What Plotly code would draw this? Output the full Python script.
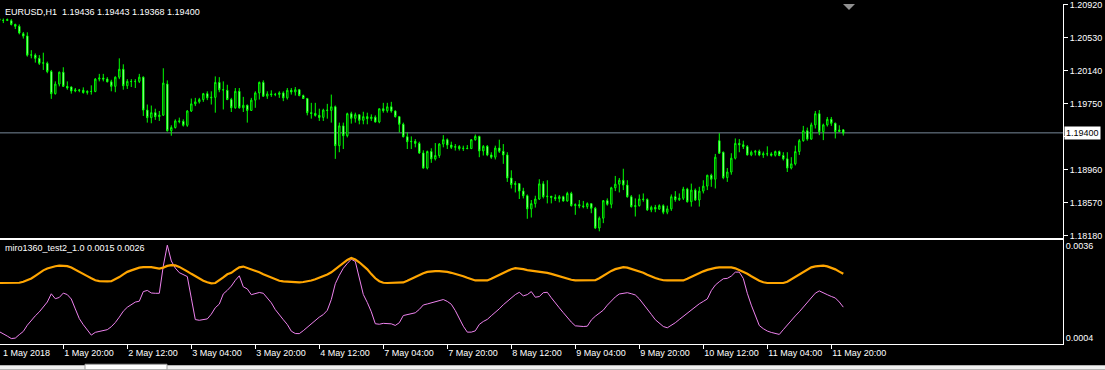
import plotly.graph_objects as go

# ---------------- data (EURUSD H1, 1 May 04:00 .. 11 May 23:00, weekend bars absent) ----------------
opens = [1.20756,1.20738,1.20736,1.20732,1.20689,1.20667,1.20579,1.20552,1.20324,1.20324,
1.20286,1.20227,1.20227,1.20129,1.19866,1.19980,1.20121,1.19953,1.19945,1.19898,
1.19910,1.19906,1.19880,1.19894,1.19892,1.20039,1.20051,1.20039,1.20007,1.19953,
1.20062,1.20156,1.19960,1.20012,1.20010,1.20012,1.20062,1.19671,1.19581,1.19640,
1.19593,1.19610,1.19980,1.19425,1.19463,1.19542,1.19537,1.19490,1.19660,1.19745,
1.19769,1.19796,1.19866,1.19816,1.19822,1.20000,1.19913,1.19906,1.19796,1.19698,
1.19894,1.19698,1.19728,1.19667,1.19789,1.19875,1.20000,1.19836,1.19863,1.19855,
1.19857,1.19875,1.19816,1.19906,1.19886,1.19913,1.19843,1.19808,1.19640,1.19631,
1.19608,1.19584,1.19671,1.19667,1.19710,1.19248,1.19483,1.19366,1.19628,1.19573,
1.19616,1.19549,1.19593,1.19569,1.19587,1.19530,1.19687,1.19663,1.19710,1.19660,
1.19593,1.19502,1.19354,1.19295,1.19299,1.19275,1.19161,1.18982,1.19178,1.19091,
1.19131,1.19267,1.19319,1.19255,1.19228,1.19237,1.19213,1.19217,1.19213,1.19319,
1.19358,1.19185,1.19240,1.19138,1.19111,1.19220,1.19181,1.19138,1.18864,1.18786,
1.18797,1.18708,1.18653,1.18497,1.18559,1.18614,1.18794,1.18641,1.18647,1.18633,
1.18618,1.18641,1.18591,1.18680,1.18535,1.18547,1.18532,1.18524,1.18559,1.18504,
1.18269,1.18386,1.18594,1.18551,1.18747,1.18790,1.18837,1.18779,1.18641,1.18524,
1.18535,1.18614,1.18609,1.18485,1.18515,1.18494,1.18535,1.18457,1.18497,1.18641,
1.18606,1.18623,1.18732,1.18582,1.18720,1.18602,1.18708,1.18767,1.18896,1.18849,
1.19307,1.19170,1.18868,1.18935,1.19099,1.19275,1.19258,1.19237,1.19138,1.19170,
1.19181,1.19138,1.19152,1.19150,1.19134,1.19178,1.19131,1.19091,1.18982,1.19032,
1.19178,1.19307,1.19425,1.19326,1.19495,1.19628,1.19413,1.19495,1.19561,1.19514,
1.19416,1.19436]
highs = [1.20776,1.20759,1.20759,1.20752,1.20697,1.20689,1.20599,1.20595,1.20383,1.20344,
1.20324,1.20353,1.20247,1.20148,1.20012,1.20129,1.20180,1.20012,1.19953,1.19933,
1.19922,1.19941,1.19906,1.19965,1.20051,1.20101,1.20101,1.20062,1.20031,1.20071,
1.20286,1.20215,1.20039,1.20039,1.20039,1.20101,1.20071,1.19737,1.19725,1.19687,
1.19660,1.20168,1.20024,1.19490,1.19561,1.19581,1.19561,1.19671,1.19808,1.19816,
1.19816,1.19875,1.19894,1.19894,1.20071,1.20062,1.20012,1.19972,1.19816,1.19933,
1.19933,1.19828,1.19737,1.19816,1.19894,1.20010,1.20024,1.19894,1.19906,1.19875,
1.19894,1.19894,1.19933,1.19933,1.19945,1.19922,1.19855,1.19816,1.19757,1.19757,
1.19687,1.19687,1.19745,1.19855,1.19725,1.19522,1.19522,1.19640,1.19651,1.19640,
1.19620,1.19651,1.19640,1.19620,1.19608,1.19687,1.19757,1.19757,1.19769,1.19667,
1.19601,1.19522,1.19405,1.19358,1.19326,1.19295,1.19193,1.19190,1.19217,1.19279,
1.19279,1.19373,1.19334,1.19295,1.19267,1.19255,1.19248,1.19255,1.19326,1.19381,
1.19366,1.19255,1.19255,1.19170,1.19248,1.19319,1.19267,1.19170,1.18955,1.18826,
1.18800,1.18747,1.18668,1.18602,1.18653,1.18849,1.18826,1.18837,1.18650,1.18668,
1.18661,1.18653,1.18700,1.18700,1.18562,1.18602,1.18591,1.18574,1.18562,1.18520,
1.18406,1.18602,1.18621,1.18759,1.18888,1.18864,1.18974,1.18837,1.18661,1.18621,
1.18668,1.18680,1.18621,1.18535,1.18544,1.18551,1.18551,1.18535,1.18668,1.18708,
1.18680,1.18759,1.18747,1.18797,1.18739,1.18759,1.18837,1.18903,1.18915,1.19150,
1.19396,1.19178,1.18982,1.19158,1.19334,1.19326,1.19307,1.19255,1.19190,1.19197,
1.19201,1.19178,1.19240,1.19170,1.19190,1.19190,1.19170,1.19170,1.19111,1.19248,
1.19326,1.19483,1.19463,1.19522,1.19660,1.19671,1.19510,1.19589,1.19589,1.19522,
1.19490,1.19443]
lows = [1.20709,1.20705,1.20729,1.20677,1.20634,1.20571,1.20521,1.20306,1.20286,1.20235,
1.20207,1.20148,1.20109,1.19804,1.19855,1.19953,1.19945,1.19913,1.19866,1.19883,
1.19883,1.19866,1.19855,1.19855,1.19883,1.20012,1.20012,1.20000,1.19894,1.19883,
1.20039,1.19913,1.19922,1.19945,1.19933,1.19992,1.19601,1.19522,1.19514,1.19554,
1.19542,1.19601,1.19416,1.19366,1.19452,1.19514,1.19475,1.19472,1.19648,1.19718,
1.19749,1.19769,1.19789,1.19737,1.19640,1.19883,1.19678,1.19789,1.19648,1.19687,
1.19687,1.19648,1.19522,1.19660,1.19698,1.19796,1.19828,1.19804,1.19828,1.19836,
1.19816,1.19777,1.19796,1.19855,1.19843,1.19836,1.19804,1.19608,1.19569,1.19593,
1.19542,1.19542,1.19569,1.19522,1.19091,1.19170,1.19208,1.19346,1.19510,1.19522,
1.19502,1.19502,1.19502,1.19542,1.19522,1.19514,1.19640,1.19640,1.19640,1.19581,
1.19405,1.19346,1.19208,1.19208,1.19228,1.19150,1.18974,1.18966,1.19044,1.19072,
1.19103,1.19228,1.19208,1.19208,1.19190,1.19190,1.19185,1.19208,1.19208,1.19307,
1.19111,1.19131,1.19123,1.19091,1.19084,1.19161,1.19032,1.18817,1.18739,1.18692,
1.18614,1.18621,1.18379,1.18394,1.18512,1.18602,1.18621,1.18562,1.18562,1.18591,
1.18574,1.18582,1.18582,1.18524,1.18426,1.18504,1.18504,1.18497,1.18445,1.18257,
1.18230,1.18327,1.18535,1.18504,1.18708,1.18692,1.18720,1.18629,1.18512,1.18406,
1.18524,1.18582,1.18473,1.18457,1.18457,1.18485,1.18433,1.18433,1.18473,1.18582,
1.18591,1.18602,1.18571,1.18524,1.18591,1.18524,1.18680,1.18720,1.18759,1.18739,
1.19150,1.18849,1.18817,1.18903,1.19084,1.19170,1.19208,1.19131,1.19123,1.19131,
1.19123,1.19103,1.19123,1.19119,1.19119,1.19123,1.19072,1.18935,1.18966,1.19013,
1.19138,1.19295,1.19307,1.19319,1.19452,1.19373,1.19314,1.19475,1.19483,1.19334,
1.19413,1.19368]
closes = [1.20738,1.20736,1.20747,1.20689,1.20667,1.20588,1.20550,1.20324,1.20327,1.20286,
1.20227,1.20233,1.20129,1.19866,1.19980,1.20121,1.19953,1.19933,1.19898,1.19910,
1.19906,1.19880,1.19894,1.19892,1.20039,1.20051,1.20039,1.20007,1.19953,1.20062,
1.20156,1.19960,1.20012,1.20010,1.20012,1.20062,1.19671,1.19581,1.19640,1.19593,
1.19610,1.19992,1.19425,1.19463,1.19542,1.19537,1.19490,1.19660,1.19745,1.19769,
1.19796,1.19866,1.19816,1.19822,1.20000,1.19913,1.19910,1.19796,1.19698,1.19894,
1.19698,1.19728,1.19667,1.19789,1.19875,1.20000,1.19836,1.19863,1.19855,1.19857,
1.19875,1.19816,1.19906,1.19886,1.19913,1.19843,1.19808,1.19640,1.19631,1.19608,
1.19584,1.19671,1.19667,1.19710,1.19248,1.19483,1.19366,1.19628,1.19573,1.19616,
1.19549,1.19593,1.19569,1.19587,1.19530,1.19687,1.19663,1.19710,1.19660,1.19593,
1.19502,1.19354,1.19295,1.19299,1.19275,1.19161,1.18982,1.19178,1.19091,1.19131,
1.19267,1.19319,1.19255,1.19228,1.19237,1.19213,1.19217,1.19213,1.19319,1.19358,
1.19185,1.19240,1.19138,1.19111,1.19220,1.19181,1.19138,1.18864,1.18786,1.18797,
1.18708,1.18653,1.18497,1.18559,1.18614,1.18794,1.18641,1.18647,1.18633,1.18618,
1.18641,1.18591,1.18680,1.18535,1.18547,1.18532,1.18524,1.18559,1.18504,1.18269,
1.18386,1.18594,1.18551,1.18747,1.18790,1.18837,1.18779,1.18641,1.18524,1.18535,
1.18614,1.18609,1.18485,1.18515,1.18494,1.18535,1.18457,1.18497,1.18641,1.18606,
1.18623,1.18732,1.18582,1.18720,1.18602,1.18708,1.18767,1.18896,1.18849,1.19111,
1.19158,1.18868,1.18935,1.19099,1.19275,1.19258,1.19237,1.19138,1.19170,1.19181,
1.19138,1.19152,1.19150,1.19134,1.19178,1.19131,1.19091,1.18982,1.19032,1.19178,
1.19307,1.19425,1.19326,1.19495,1.19628,1.19413,1.19495,1.19561,1.19514,1.19416,
1.19434,1.19400]

# indicator buffer 0 (violet) and buffer 1 (orange)
ind_fast = [0.000623,0.000554,0.000468,0.000382,0.000399,0.000520,0.000630,0.000847,0.001026,0.001174,
0.001311,0.001466,0.001655,0.001941,0.001769,0.001814,0.001965,0.001913,0.001759,0.001415,
0.001077,0.000864,0.000664,0.000503,0.000599,0.000623,0.000651,0.000692,0.000795,0.000940,
0.001129,0.001335,0.001473,0.001569,0.001652,0.001683,0.002017,0.002058,0.001969,0.001958,
0.001958,0.002911,0.003634,0.003083,0.002836,0.002677,0.002615,0.002540,0.001790,0.001043,
0.001019,0.001033,0.001067,0.001232,0.001456,0.001583,0.001938,0.002061,0.002209,0.002409,
0.002567,0.002182,0.002110,0.001910,0.001958,0.001986,0.001958,0.001810,0.001628,0.001390,
0.001201,0.001039,0.000871,0.000640,0.000558,0.000554,0.000657,0.000778,0.000909,0.001036,
0.001129,0.001218,0.001366,0.001741,0.002292,0.002584,0.002829,0.002997,0.003145,0.003066,
0.002512,0.001917,0.001638,0.001315,0.000898,0.000881,0.000912,0.000905,0.000895,0.000840,
0.000933,0.001184,0.001215,0.001246,0.001280,0.001397,0.001552,0.001587,0.001621,0.001659,
0.001700,0.001741,0.001676,0.001576,0.001356,0.001084,0.000812,0.000606,0.000606,0.000651,
0.000874,0.000977,0.001050,0.001177,0.001284,0.001418,0.001559,0.001679,0.001817,0.001913,
0.001993,0.001869,0.001913,0.002017,0.001821,0.001845,0.001979,0.001993,0.001803,0.001614,
0.001452,0.001284,0.001105,0.000957,0.000826,0.000802,0.000802,0.000812,0.001029,0.001160,
0.001267,0.001370,0.001545,0.001707,0.001831,0.001934,0.001962,0.001979,0.001944,0.001900,
0.001765,0.001597,0.001415,0.001225,0.001039,0.000905,0.000802,0.000757,0.000840,0.000933,
0.001046,0.001156,0.001273,0.001390,0.001507,0.001593,0.001676,0.001762,0.002051,0.002244,
0.002361,0.002464,0.002478,0.002557,0.002695,0.002695,0.002474,0.001958,0.001545,0.001191,
0.000836,0.000726,0.000644,0.000596,0.000551,0.000527,0.000692,0.000861,0.001022,0.001170,
0.001315,0.001470,0.001638,0.001814,0.001962,0.002041,0.001989,0.001910,0.001848,0.001796,
0.001655,0.001476]
ind_slow = [0.002316,0.002316,0.002316,0.002316,0.002316,0.002326,0.002361,0.002413,0.002475,0.002567,
0.002671,0.002757,0.002819,0.002867,0.002901,0.002922,0.002922,0.002905,0.002853,0.002784,
0.002722,0.002636,0.002557,0.002481,0.002413,0.002385,0.002371,0.002371,0.002378,0.002447,
0.002522,0.002619,0.002705,0.002757,0.002808,0.002850,0.002867,0.002877,0.002870,0.002843,
0.002819,0.002853,0.002912,0.002939,0.002929,0.002877,0.002808,0.002722,0.002636,0.002550,
0.002464,0.002395,0.002344,0.002302,0.002316,0.002405,0.002509,0.002619,0.002671,0.002774,
0.002860,0.002888,0.002843,0.002791,0.002750,0.002688,0.002619,0.002557,0.002498,0.002447,
0.002395,0.002371,0.002361,0.002351,0.002344,0.002337,0.002351,0.002371,0.002405,0.002447,
0.002498,0.002550,0.002612,0.002688,0.002791,0.002912,0.003015,0.003118,0.003187,0.003135,
0.003039,0.002929,0.002791,0.002626,0.002481,0.002378,0.002326,0.002316,0.002316,0.002316,
0.002316,0.002337,0.002395,0.002464,0.002533,0.002584,0.002653,0.002705,0.002722,0.002729,
0.002729,0.002729,0.002705,0.002671,0.002636,0.002591,0.002550,0.002498,0.002447,0.002405,
0.002405,0.002405,0.002405,0.002464,0.002533,0.002602,0.002671,0.002739,0.002798,0.002833,
0.002826,0.002798,0.002764,0.002750,0.002729,0.002715,0.002695,0.002671,0.002636,0.002591,
0.002543,0.002498,0.002464,0.002430,0.002405,0.002405,0.002405,0.002405,0.002405,0.002412,
0.002481,0.002567,0.002671,0.002739,0.002798,0.002843,0.002867,0.002850,0.002808,0.002757,
0.002715,0.002671,0.002602,0.002540,0.002488,0.002447,0.002412,0.002405,0.002405,0.002405,
0.002405,0.002405,0.002464,0.002533,0.002612,0.002671,0.002722,0.002774,0.002819,0.002843,
0.002860,0.002867,0.002867,0.002860,0.002826,0.002764,0.002705,0.002636,0.002550,0.002464,
0.002395,0.002344,0.002316,0.002316,0.002316,0.002316,0.002316,0.002361,0.002447,0.002533,
0.002619,0.002705,0.002791,0.002860,0.002895,0.002919,0.002922,0.002895,0.002850,0.002791,
0.002712,0.002636]

bar_index = list(range(len(closes)))
time_tick_index = [16, 32, 48, 64, 80, 96, 112, 128, 144, 160, 176, 192, 208]
time_tick_labels = ["1 May 20:00", "2 May 12:00", "3 May 04:00", "3 May 20:00", "4 May 12:00",
                    "7 May 04:00", "7 May 20:00", "8 May 12:00", "9 May 04:00", "9 May 20:00",
                    "10 May 12:00", "11 May 04:00", "11 May 20:00"]
first_label = "1 May 2018"
price_ticks = [1.20920, 1.20530, 1.20140, 1.19750, 1.19360, 1.18960, 1.18570, 1.18180]
ind_ticks = [0.0036, 0.0004]
symbol_title = "EURUSD,H1\u00a0\u00a01.19436 1.19443 1.19368 1.19400"
ind_title = "miro1360_test2_1.0 0.0015 0.0026"
last_price = 1.19400

assert len(opens) == len(highs) == len(lows) == len(closes) == 212, (len(opens), len(highs), len(lows), len(closes))
assert len(ind_fast) == 212 and len(ind_slow) == 212, (len(ind_fast), len(ind_slow))

# ---------------- layout geometry ----------------
W, H = 1105, 370
ML, MR, MT, MB = 0, 42, 0, 26
PW, PH = W - ML - MR, H - MT - MB


def pyp(p):  # pixel row -> paper y
    return (PH - p) / PH


def pxp(p):  # pixel column -> paper x
    return p / PW


FONT = "Tahoma, 'Liberation Sans', Arial, sans-serif"
XR = [0.175, 0.175 + PW / 4.0]

fig = go.Figure()
fig.add_trace(go.Candlestick(
    x=bar_index, open=opens, high=highs, low=lows, close=closes,
    increasing=dict(line=dict(color="#00FF00", width=1), fillcolor="#000000"),
    decreasing=dict(line=dict(color="#00FF00", width=1), fillcolor="#FFFFFF"),
    whiskerwidth=0, xaxis="x", yaxis="y", hoverinfo="skip", showlegend=False))
fig.add_trace(go.Scatter(x=bar_index, y=ind_fast, mode="lines",
                         line=dict(color="#EE82EE", width=1), xaxis="x2", yaxis="y2",
                         hoverinfo="skip", showlegend=False))
fig.add_trace(go.Scatter(x=bar_index, y=ind_slow, mode="lines",
                         line=dict(color="#FFA500", width=2.2), xaxis="x2", yaxis="y2",
                         hoverinfo="skip", showlegend=False))

axis_common = dict(showgrid=False, zeroline=False, linecolor="#FFFFFF", linewidth=1,
                   tickcolor="#FFFFFF", tickfont=dict(family=FONT, size=9, color="#FFFFFF"))

# the 1.19360 label sits under the current-price box in the reference, so only its tick is drawn
price_ticktext = ["" if abs(v - 1.19360) < 1e-9 else f"{v:.5f}" for v in price_ticks]

fig.update_layout(
    width=W, height=H,
    margin=dict(l=ML, r=MR, t=MT, b=MB, pad=0),
    paper_bgcolor="#000000", plot_bgcolor="#000000",
    showlegend=False, boxgap=0.5,
    font=dict(family=FONT, size=9, color="#FFFFFF"),
    xaxis=dict(domain=[0, 1], anchor="y", range=XR, showticklabels=False, ticks="",
               showline=True, rangeslider=dict(visible=False), **axis_common),
    xaxis2=dict(domain=[0, 1], anchor="y2", range=XR, matches="x",
                tickmode="array", tickvals=time_tick_index, ticktext=time_tick_labels,
                ticks="outside", ticklen=4, ticklabelposition="outside right",
                showline=True, mirror=True, **axis_common),
    yaxis=dict(domain=[pyp(236.5), 1], range=[1.181535, 1.209317], side="right",
               tickmode="array", tickvals=price_ticks, ticktext=price_ticktext,
               ticks="outside", ticklen=4, showline=True, ticklabeloverflow="allow",
               **axis_common),
    yaxis2=dict(domain=[0, pyp(238.5)], range=[0.000193, 0.003823], side="right",
                tickmode="array", tickvals=ind_ticks, ticktext=[f"{v:.4f}" for v in ind_ticks],
                ticks="", showline=True, ticklabeloverflow="allow", **axis_common),
)

fig.add_shape(type="line", xref="paper", yref="y", x0=0, x1=1, y0=last_price, y1=last_price,
              line=dict(color="#778899", width=1), layer="below")
# chart-shift marker (small gray triangle at top)
fig.add_shape(type="path", xref="paper", yref="paper",
              path=f"M {pxp(843)} {pyp(0)} L {pxp(855)} {pyp(0)} L {pxp(849)} {pyp(6)} Z",
              fillcolor="#909090", line=dict(width=0))
# bottom tab strip
fig.add_shape(type="rect", xref="paper", yref="paper", x0=0, x1=W / PW, y0=pyp(370), y1=pyp(365.5),
              fillcolor="#F0F0F0", line=dict(width=0))
fig.add_shape(type="rect", xref="paper", yref="paper", x0=pxp(85), x1=pxp(167), y0=pyp(370), y1=pyp(364.5),
              fillcolor="#FFFFFF", line=dict(color="#A0A0A0", width=1))

fig.add_annotation(text=symbol_title, xref="paper", yref="paper", x=pxp(3), y=pyp(8),
                   xanchor="left", yanchor="middle", showarrow=False,
                   font=dict(family=FONT, size=9, color="#FFFFFF"))
fig.add_annotation(text=ind_title, xref="paper", yref="paper", x=pxp(3), y=pyp(247),
                   xanchor="left", yanchor="middle", showarrow=False,
                   font=dict(family=FONT, size=9, color="#FFFFFF"))
fig.add_annotation(text=first_label, xref="paper", yref="paper", x=pxp(1), y=pyp(353),
                   xanchor="left", yanchor="middle", showarrow=False,
                   font=dict(family=FONT, size=9, color="#FFFFFF"))
fig.add_annotation(text=f"{last_price:.5f}", xref="paper", yref="y", x=pxp(PW + 1), y=last_price,
                   xanchor="left", yanchor="middle", showarrow=False, bgcolor="#FFFFFF",
                   borderpad=1, font=dict(family=FONT, size=9, color="#000000"))

fig.write_html("out.html")
